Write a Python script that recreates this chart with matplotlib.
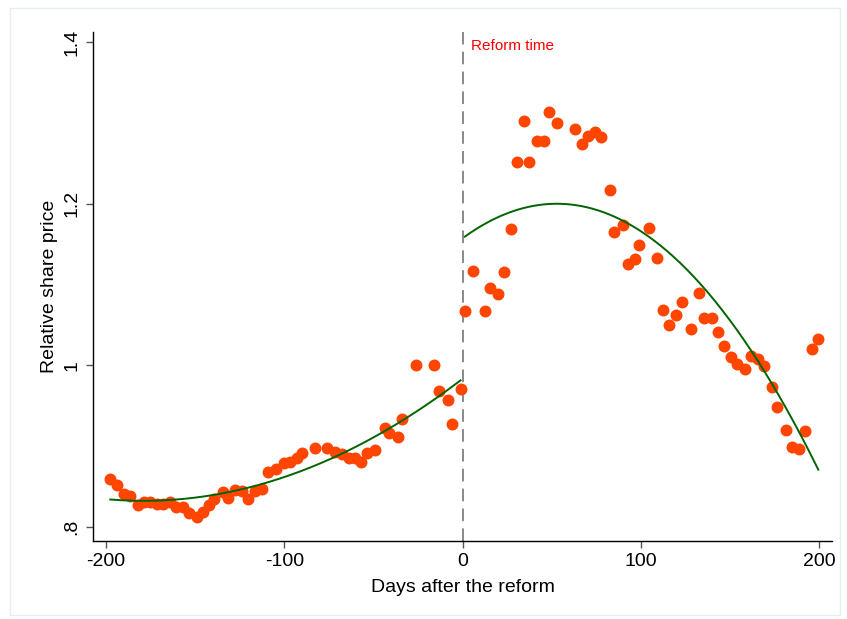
import numpy as np
import matplotlib
matplotlib.use("Agg")
import matplotlib.pyplot as plt
from matplotlib.patches import Rectangle

plt.rcParams['font.family'] = ['Liberation Sans', 'DejaVu Sans']

# Days before the reform and relative share price
days_pre = [-197.6, -193.8, -189.7, -186.4, -182.2, -178.9, -175.2, -171.4, -168.2, -164.1,
            -160.8, -157.0, -153.3, -149.0, -145.8, -142.1, -139.3, -134.6, -131.8, -127.7,
            -123.8, -120.1, -116.4, -112.6, -109.4, -104.4, -100.1, -96.9, -93.0, -90.2,
            -82.9, -75.8, -71.7, -67.8, -63.7, -60.5, -56.8, -53.8, -49.1, -43.7,
            -41.2, -36.4, -33.7, -26.2, -15.9, -13.3, -8.2, -5.7, -1.1]
price_pre = [0.859, 0.852, 0.841, 0.838, 0.827, 0.831, 0.831, 0.829, 0.829, 0.831,
             0.825, 0.825, 0.817, 0.813, 0.819, 0.827, 0.835, 0.843, 0.836, 0.846,
             0.845, 0.835, 0.845, 0.847, 0.868, 0.872, 0.879, 0.880, 0.886, 0.892,
             0.898, 0.898, 0.893, 0.890, 0.886, 0.886, 0.881, 0.891, 0.895, 0.923,
             0.916, 0.911, 0.934, 1.001, 1.000, 0.968, 0.957, 0.927, 0.971]

# Days after the reform and relative share price
days_post = [1.3, 5.8, 12.9, 15.3, 20.0, 23.5, 27.3, 30.6, 34.3, 37.5,
             41.8, 45.5, 48.7, 53.2, 63.3, 67.2, 70.2, 74.1, 77.6, 82.5,
             84.8, 89.8, 92.6, 96.9, 99.3, 104.9, 109.4, 112.4, 116.1, 119.5,
             123.4, 128.1, 132.6, 135.6, 140.2, 143.1, 146.9, 150.5, 154.2, 158.5,
             161.7, 165.6, 169.3, 173.5, 176.3, 181.5, 184.7, 189.0, 192.3, 196.1, 199.6]
price_post = [1.067, 1.117, 1.067, 1.096, 1.088, 1.116, 1.169, 1.251, 1.302, 1.251,
              1.278, 1.278, 1.313, 1.300, 1.293, 1.274, 1.284, 1.289, 1.283, 1.217,
              1.165, 1.174, 1.125, 1.131, 1.149, 1.170, 1.133, 1.069, 1.050, 1.062,
              1.078, 1.045, 1.090, 1.059, 1.059, 1.041, 1.024, 1.010, 1.002, 0.996,
              1.011, 1.008, 0.999, 0.973, 0.948, 0.920, 0.899, 0.896, 0.919, 1.020, 1.032]

x_ticks = [-200, -100, 0, 100, 200]
y_ticks = [0.8, 1.0, 1.2, 1.4]
y_tick_labels = ['.8', '1', '1.2', '1.4']

marker_color = '#FF4500'
fit_color = '#006400'

fig = plt.figure(figsize=(8.47, 6.19), dpi=100)
fig.patches.append(Rectangle((10/847, 4/619), 830/847, 607/619, transform=fig.transFigure,
                             fill=False, edgecolor='#e6eef0', linewidth=1.0))
ax = fig.add_axes([93/847, 78/619, 739/847, 509/619])

ax.plot(days_pre, price_pre, 'o', color=marker_color, markersize=8.6, markeredgewidth=0, zorder=3)
ax.plot(days_post, price_post, 'o', color=marker_color, markersize=8.6, markeredgewidth=0, zorder=3)

# Quadratic fits on each side
for d, p in ((days_pre, price_pre), (days_post, price_post)):
    d = np.asarray(d); p = np.asarray(p)
    coef = np.polyfit(d, p, 2)
    xs = np.linspace(d.min(), d.max(), 200)
    ax.plot(xs, np.polyval(coef, xs), color=fit_color, linewidth=1.4, zorder=4)

ax.axvline(0, color='#808080', linewidth=1.3, dashes=(7, 4), zorder=2)
ax.text(4.5, 1.395, 'Reform time', color='#ff0000', fontsize=11, va='center', ha='left')

ax.set_xlim(-207.3, 207.3)
ax.set_ylim(0.7827, 1.4124)
ax.set_xticks(x_ticks)
ax.set_xticklabels([str(t) for t in x_ticks], fontsize=14)
ax.set_yticks(y_ticks)
ax.set_yticklabels(y_tick_labels, fontsize=14, rotation=90, va='center')
ax.tick_params(direction='out', length=5, width=1, color='#555555', pad=4)
for s in ('top', 'right'):
    ax.spines[s].set_visible(False)
ax.spines['left'].set_linewidth(1)
ax.spines['bottom'].set_linewidth(1)
ax.set_xlabel('Days after the reform', fontsize=14, labelpad=6)
ax.set_ylabel('Relative share price', fontsize=14, labelpad=4)

fig.savefig('out.png', dpi=100, facecolor='white')
